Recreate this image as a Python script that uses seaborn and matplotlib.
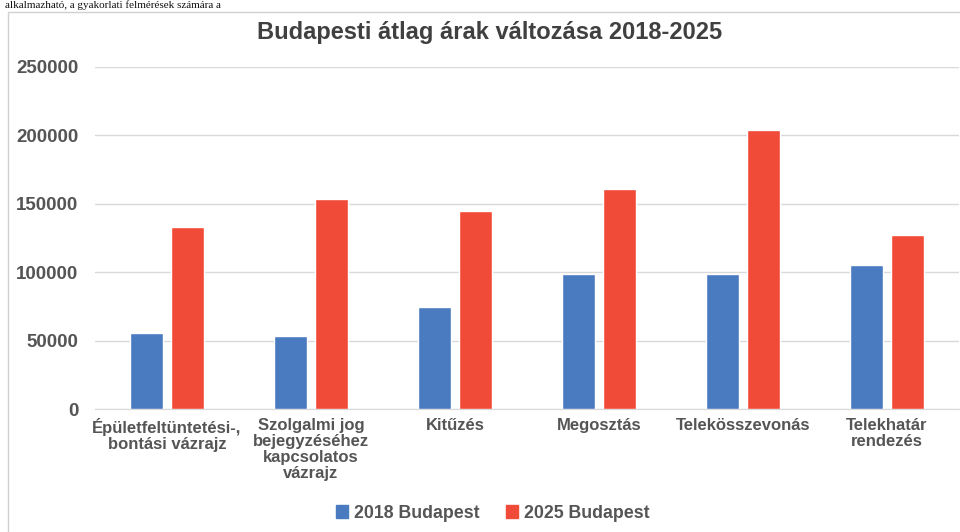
import pandas as pd
import seaborn as sns
import matplotlib.pyplot as plt
from matplotlib.patches import Rectangle

categories = ['Épületfeltüntetési-,\nbontási vázrajz',
              'Szolgalmi jog\nbejegyzéséhez\nkapcsolatos\nvázrajz',
              'Kitűzés', 'Megosztás', 'Telekösszevonás',
              'Telekhatár\nrendezés']
prices_2018 = [55800, 53600, 75000, 98500, 98500, 105300]
prices_2025 = [133300, 153400, 144400, 160700, 203900, 126900]
series_names = ['2018 Budapest', '2025 Budapest']
yticks = [0, 50000, 100000, 150000, 200000, 250000]

df = pd.DataFrame({
    'Kategória': categories * 2,
    'Ár': prices_2018 + prices_2025,
    'Sorozat': [series_names[0]] * len(categories) + [series_names[1]] * len(categories),
})

sns.set_style('white')
plt.rcParams['font.family'] = ['Liberation Sans', 'DejaVu Sans']

fig = plt.figure(figsize=(9.6, 5.32), dpi=100)
ax = fig.add_axes([95 / 960, 1 - 409.3 / 532, 864 / 960, (409.3 - 66.7) / 532])

sns.barplot(data=df, x='Kategória', y='Ár', hue='Sorozat',
            palette=['#4A7BC0', '#F04A38'], width=0.57, gap=0.19,
            saturation=1, ax=ax, legend=False)

text_col = '#555555'
ax.set_ylim(0, 250000)
ax.set_yticks(yticks)
ax.set_yticklabels([str(v) for v in yticks], fontsize=13.5, fontweight='bold', color=text_col)
ax.set_xticks(range(len(categories)))
ax.set_xticklabels(categories, fontsize=12, fontweight='bold', color=text_col, linespacing=1.1)
ax.tick_params(axis='y', length=0, pad=12)
ax.tick_params(axis='x', length=0, pad=6)
ax.set_xlabel('')
ax.set_ylabel('')
ax.grid(axis='y', color='#d9d9d9', linewidth=1)
ax.set_axisbelow(True)
for s in ['left', 'right', 'top']:
    ax.spines[s].set_visible(False)
ax.spines['bottom'].set_color('#d9d9d9')
ax.spines['bottom'].set_zorder(0)

fig.text(0.51, 1 - 33 / 532, 'Budapesti átlag árak változása 2018-2025',
         ha='center', va='center', fontsize=17, fontweight='bold', color='#404040')

# frame of the chart area and the line of page text above it
fig.patches.append(Rectangle((8 / 960, -0.1), 1.2, 1.078, transform=fig.transFigure,
                             fill=False, edgecolor='#d0d0d0', linewidth=1))
fig.text(0.005, 0.999, 'alkalmazható, a gyakorlati felmérések számára a',
         ha='left', va='top', fontsize=8, family='Liberation Serif', color='#111111')

handles = [Rectangle((0, 0), 1, 1, color=c) for c in ['#4A7BC0', '#F04A38']]
fig.legend(handles, series_names, loc='center', bbox_to_anchor=(0.513, 1 - 513 / 532),
           ncol=2, frameon=False, handlelength=0.7, handleheight=0.7,
           handletextpad=0.3, columnspacing=1.5,
           prop={'size': 12.8, 'weight': 'bold'}, labelcolor=text_col)

fig.savefig('out.png', dpi=100)
